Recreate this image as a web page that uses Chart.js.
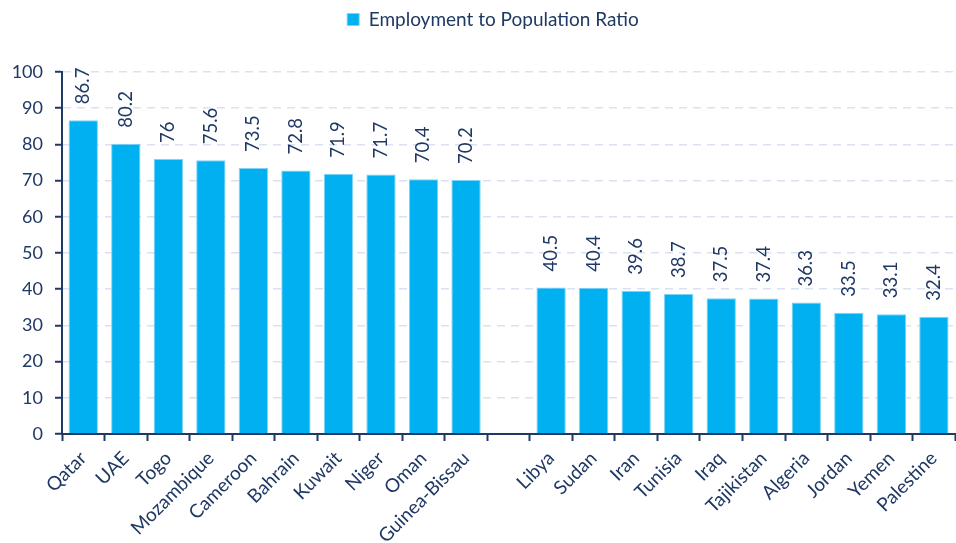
<!DOCTYPE html>
<html>
<head>
<meta charset="utf-8">
<script src="https://cdn.jsdelivr.net/npm/chart.js@4"></script>
<style>
  html, body { margin: 0; padding: 0; background: #ffffff; }
  #wrap { width: 956px; height: 543px; position: relative; }
</style>
</head>
<body>
<div id="wrap"><canvas id="chart"></canvas></div>
<script>
const COUNTRIES = [
    "Qatar", "UAE", "Togo", "Mozambique", "Cameroon", "Bahrain", "Kuwait", "Niger", "Oman", "Guinea-Bissau",
    "",
    "Libya", "Sudan", "Iran", "Tunisia", "Iraq", "Tajikistan", "Algeria", "Jordan", "Yemen", "Palestine",
];
const RATIOS = [
    86.7, 80.2, 76, 75.6, 73.5, 72.8, 71.9, 71.7, 70.4, 70.2,
    null,
    40.5, 40.4, 39.6, 38.7, 37.5, 37.4, 36.3, 33.5, 33.1, 32.4,
];
const SERIES_LABEL = "Employment to Population Ratio";

const NAVY = "#1f3864";
const FONT = "Lato, 'Open Sans', sans-serif";

// vertical value labels above each bar
const barValueLabels = {
    id: "barValueLabels",
    afterDatasetsDraw(chart) {
        const { ctx } = chart;
        const meta = chart.getDatasetMeta(0);
        ctx.save();
        ctx.fillStyle = NAVY;
        ctx.font = `18.5px ${FONT}`;
        ctx.textAlign = "left";
        ctx.textBaseline = "middle";
        meta.data.forEach((bar, i) => {
            const v = RATIOS[i];
            if (v == null) return;
            ctx.save();
            ctx.translate(bar.x, bar.y - 16);
            ctx.rotate(-Math.PI / 2);
            ctx.fillText(String(v), 0, 0);
            ctx.restore();
        });
        ctx.restore();
    },
};

// extra room under the legend, and nudge it a bit to the right
const legendGap = {
    id: "legendGap",
    beforeInit(chart) {
        const legend = chart.legend;
        const fit = legend.fit;
        legend.fit = function () {
            fit.bind(legend)();
            this.height += 33;
        };
        const draw = legend.draw;
        legend.draw = function (...args) {
            const ctx = chart.ctx;
            ctx.save();
            ctx.translate(15, 0);
            draw.apply(legend, args);
            ctx.restore();
        };
    },
};

new Chart(document.getElementById("chart"), {
    type: "bar",
    data: {
        labels: COUNTRIES,
        datasets: [{
            label: SERIES_LABEL,
            data: RATIOS,
            backgroundColor: "#00b0f0",
            borderColor: "#7fd3f7",
            borderWidth: 1,
            barPercentage: 0.69,
            categoryPercentage: 1,
        }],
    },
    options: {
        responsive: true,
        maintainAspectRatio: false,
        animation: false,
        layout: { padding: { top: 0, right: 0, bottom: 0, left: 0 } },
        plugins: {
            legend: {
                position: "top",
                labels: {
                    boxWidth: 12,
                    boxHeight: 12,
                    color: NAVY,
                    font: { size: 19, family: FONT },
                    padding: 10,
                },
            },
            tooltip: { enabled: false },
        },
        scales: {
            x: {
                offset: true,
                afterFit(scale) { scale.height = 109; },
                grid: {
                    offset: true,
                    drawOnChartArea: false,
                    drawTicks: true,
                    tickLength: 7,
                    tickWidth: 2,
                    tickColor: NAVY,
                },
                border: { color: NAVY, width: 2 },
                ticks: {
                    color: NAVY,
                    font: { size: 19, family: FONT },
                    maxRotation: 45,
                    minRotation: 45,
                    autoSkip: false,
                    padding: 6,
                },
            },
            y: {
                min: 0,
                max: 100,
                afterFit(scale) { scale.width = 62; },
                ticks: {
                    stepSize: 10,
                    color: NAVY,
                    font: { size: 18, family: FONT },
                    padding: 12,
                },
                grid: {
                    color: "#d9e1f2",
                    lineWidth: 1.5,
                    tickColor: NAVY,
                    tickLength: 7,
                    tickWidth: 2,
                    tickBorderDash: [],
                },
                border: { color: NAVY, width: 2, dash: [8, 6] },
            },
        },
    },
    plugins: [barValueLabels, legendGap],
});
</script>
</body>
</html>
